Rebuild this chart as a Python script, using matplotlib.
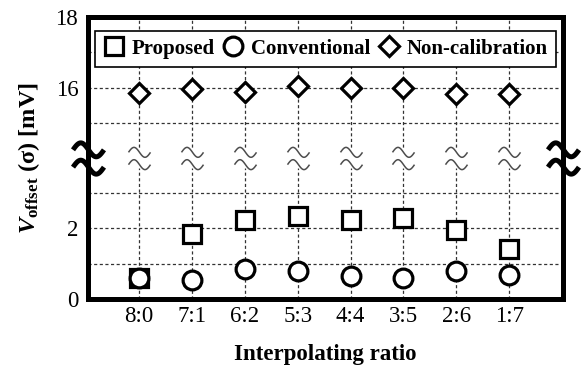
import numpy as np
import matplotlib.pyplot as plt
from matplotlib.path import Path

plt.rcParams['font.family'] = 'Liberation Serif'
plt.rcParams['mathtext.fontset'] = 'custom'
plt.rcParams['mathtext.rm'] = 'Liberation Serif:bold'
plt.rcParams['mathtext.it'] = 'Liberation Serif:italic:bold'
plt.rcParams['mathtext.bf'] = 'Liberation Serif:bold'

ratios = ['8:0', '7:1', '6:2', '5:3', '4:4', '3:5', '2:6', '1:7']
proposed = [0.60, 1.84, 2.24, 2.36, 2.24, 2.29, 1.96, 1.42]
conventional = [0.60, 0.54, 0.85, 0.78, 0.65, 0.60, 0.78, 0.68]
non_calibration = [15.84, 15.95, 15.88, 16.04, 16.00, 15.98, 15.82, 15.82]
y_ticks = [0, 2, 16, 18]
grid_y = [1, 2, 3, 15, 16, 17]


# broken y axis: 4..14 is squeezed out
def fwd(y):
    y = np.asarray(y, dtype=float)
    return np.where(y <= 4, y, np.where(y >= 14, y - 10, 4.0))


def inv(v):
    v = np.asarray(v, dtype=float)
    return np.where(v <= 4, v, v + 10)


# double tilde used for the axis break marks
t = np.linspace(-np.pi, np.pi, 40)
xs = t / np.pi
top = np.column_stack([xs, -0.45 * np.sin(t) + 0.56])
bot = np.column_stack([xs, -0.45 * np.sin(t) - 0.56])
codes = [Path.MOVETO] + [Path.LINETO] * (len(t) - 1)
tilde = Path(np.vstack([top, bot]), codes + codes)

fig = plt.figure(figsize=(5.84, 3.65), dpi=100)
ax = fig.add_axes([0.1507, 0.181, 0.8134, 0.772])
ax.set_yscale('function', functions=(fwd, inv))

x = np.arange(len(ratios))
ax.set_xlim(-0.965, 8.02)
ax.set_ylim(0, 18)

# dotted grid
for gy in grid_y:
    ax.axhline(gy, color='#333333', lw=0.9, ls=(0, (2.5, 2)), zorder=1)
for gx in x:
    ax.axvline(gx, color='#333333', lw=0.9, ls=(0, (2.5, 2)), zorder=1)

# small break marks on each vertical grid line
ax.plot(x, [4] * len(x), ls='none', marker='s', ms=15, mfc='white', mec='none', zorder=2)
ax.plot(x, [4] * len(x), ls='none', marker=tilde, ms=16, mfc='none', mec='#4d4d4d',
        mew=1.1, zorder=2)

ax.plot(x, proposed, ls='none', marker='s', ms=13, mfc='white', mec='black', mew=2.3,
        zorder=3, label='Proposed')
ax.plot(x, conventional, ls='none', marker='o', ms=13.5, mfc='white', mec='black', mew=2.3,
        zorder=4, label='Conventional')
ax.plot(x, non_calibration, ls='none', marker='D', ms=9.8, mfc='white', mec='black', mew=2.3,
        zorder=4, label='Non-calibration')

for s in ax.spines.values():
    s.set_linewidth(3.6)

# big break marks on the left and right spines
ax.plot([0, 1], [4, 4], transform=ax.get_yaxis_transform(), ls='none', marker=tilde,
        ms=22.5, mfc='none', mec='black', mew=3.6, clip_on=False, zorder=6)

ax.set_xticks(x)
ax.set_xticklabels(ratios)
ax.set_yticks(y_ticks)
ax.set_yticklabels([str(v) for v in y_ticks])
ax.minorticks_off()
ax.tick_params(axis='both', length=0, labelsize=16.5)
ax.tick_params(axis='x', pad=5)
ax.tick_params(axis='y', pad=7)

ax.set_xlabel('Interpolating ratio', fontsize=16.5, fontweight='bold', labelpad=12)
ax.set_ylabel(r'$V_{\mathrm{offset}}$ (σ) [mV]', fontsize=17.5, fontweight='bold', labelpad=10)

leg = ax.legend(loc='upper center', bbox_to_anchor=(0.5, 0.952), ncol=3,
                prop={'weight': 'bold', 'size': 15}, frameon=True, fancybox=False,
                edgecolor='black', framealpha=1, handlelength=1.0, handletextpad=0.35,
                columnspacing=0.4, borderpad=0.38, borderaxespad=0)
leg.get_frame().set_linewidth(1.2)
leg.set_zorder(5)

fig.savefig('out.png', dpi=100)
